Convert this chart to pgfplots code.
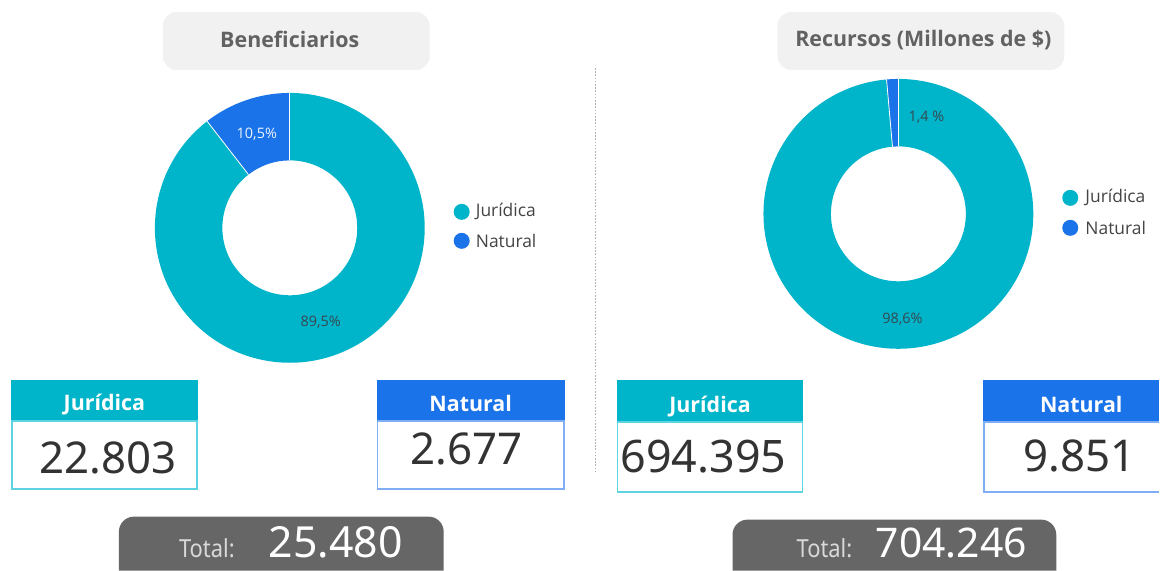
\documentclass[border=0pt]{standalone}
\usepackage{pgfplots}
\usepackage{pgfplotstable}
\pgfplotsset{compat=1.18}
\usepackage{fontspec}
\setmainfont{Open Sans}
\newfontfamily\numfont{Noto Sans}
\newfontfamily\condfont[FakeStretch=0.88]{Noto Sans}

\definecolor{jur}{HTML}{00B5CA}
\definecolor{nat}{HTML}{1A73E8}
\definecolor{jurline}{HTML}{5ED3E2}
\definecolor{natline}{HTML}{7FAEF5}
\definecolor{titlebg}{HTML}{F1F1F1}
\definecolor{titletxt}{HTML}{626262}
\definecolor{totbg}{HTML}{666666}
\definecolor{numtxt}{HTML}{333333}
\definecolor{legtxt}{HTML}{444444}
\definecolor{pcttxt}{HTML}{37474F}

% shares in percent
\pgfplotstableread{
tipo share
Juridica 89.5
Natural 10.5
}\benef
\pgfplotstableread{
tipo share
Juridica 98.6
Natural 1.4
}\recur

\pgfplotstablegetelem{1}{share}\of\benef
\pgfmathsetmacro\bA{90+3.6*\pgfplotsretval}
\pgfplotstablegetelem{1}{share}\of\recur
\pgfmathsetmacro\rA{90+3.6*\pgfplotsretval}

% slice: color, start angle, end angle
\newcommand\slice[3]{%
  \fill[#1] (axis cs:{cos(#2)},{sin(#2)}) arc[start angle=#2, end angle=#3, radius=135bp]
    -- (axis cs:{0.5*cos(#3)},{0.5*sin(#3)}) arc[start angle=#3, end angle=#2, radius=67.5bp] -- cycle;}
\newcommand\sep[1]{%
  \draw[white, line width=0.8bp] (axis cs:{0.5*cos(#1)},{0.5*sin(#1)}) -- (axis cs:{cos(#1)},{sin(#1)});}

\begin{document}
\begin{tikzpicture}
\begin{scope}[x=1bp,y=-1bp]
\fill[white] (0,0) rectangle (1160,571);
\end{scope}

\begin{axis}[hide axis, scale only axis, width=270bp, height=270bp,
  xmin=-1, xmax=1, ymin=-1, ymax=1, at={(290bp,-228bp)}, anchor=center]
  \slice{nat}{90}{\bA}
  \slice{jur}{\bA}{450}
  \sep{90}\sep{\bA}
\end{axis}

\begin{axis}[hide axis, scale only axis, width=270bp, height=270bp,
  xmin=-1, xmax=1, ymin=-1, ymax=1, at={(899bp,-214bp)}, anchor=center]
  \slice{nat}{90}{\rA}
  \slice{jur}{\rA}{450}
  \sep{90}\sep{\rA}
\end{axis}

\begin{scope}[x=1bp,y=-1bp]
% title boxes
\fill[titlebg, rounded corners=14bp] (163,12) rectangle (430,70);
\node[anchor=base, inner sep=0, text=titletxt, font=\bfseries\fontsize{21.5}{25}\selectfont] at (290,48) {Beneficiarios};
\fill[titlebg, rounded corners=14bp] (778,12) rectangle (1065,70);
\node[anchor=base, inner sep=0, text=titletxt, font=\bfseries\fontsize{21.5}{25}\selectfont] at (924,47) {Recursos (Millones de \$)};

% percent labels
\node[text=white!92!nat, font=\fontsize{14.5}{17}\selectfont] at (257,134) {10,5\%};
\node[text=pcttxt, font=\fontsize{14.5}{17}\selectfont] at (321,322) {89,5\%};
\node[text=pcttxt, font=\fontsize{14.5}{17}\selectfont] at (927,117) {1,4 \%};
\node[text=pcttxt, font=\fontsize{14.5}{17}\selectfont] at (903,319) {98,6\%};

% legends
\fill[jur] (462,212) circle[radius=8];
\fill[nat] (462,241) circle[radius=8];
\node[anchor=west, inner sep=0, text=legtxt, font=\fontsize{17.5}{20}\selectfont] at (476,212) {Jurídica};
\node[anchor=west, inner sep=0, text=legtxt, font=\fontsize{17.5}{20}\selectfont] at (476,241) {Natural};
\fill[jur] (1071,198) circle[radius=8];
\fill[nat] (1071,228) circle[radius=8];
\node[anchor=west, inner sep=0, text=legtxt, font=\fontsize{17.5}{20}\selectfont] at (1086,198) {Jurídica};
\node[anchor=west, inner sep=0, text=legtxt, font=\fontsize{17.5}{20}\selectfont] at (1086,228) {Natural};

% divider
\draw[black!30, line width=1.6bp, dash pattern=on 1.6bp off 1.6bp] (596,68) -- (596,473);

% value boxes
\fill[jur] (11,380) rectangle (198,421);
\draw[jurline, line width=1.6bp] (11.8,421) rectangle (197.2,489.2);
\node[anchor=base, inner sep=0, text=white, font=\bfseries\fontsize{21.5}{25}\selectfont] at (104.5,411) {Jurídica};
\node[anchor=base, inner sep=0, text=numtxt, font=\numfont\fontsize{44}{50}\selectfont] at (108,474) {22.803};

\fill[nat] (377,380) rectangle (565,421);
\draw[natline, line width=1.6bp] (377.8,421) rectangle (564.2,489.2);
\node[anchor=base, inner sep=0, text=white, font=\bfseries\fontsize{21.5}{25}\selectfont] at (471,412) {Natural};
\node[anchor=base, inner sep=0, text=numtxt, font=\numfont\fontsize{44}{50}\selectfont] at (467,465) {2.677};

\fill[jur] (617,380) rectangle (804,422);
\draw[jurline, line width=1.6bp] (617.8,422) rectangle (803.2,492.2);
\node[anchor=base, inner sep=0, text=white, font=\bfseries\fontsize{21.5}{25}\selectfont] at (710.5,413) {Jurídica};
\node[anchor=base, inner sep=0, text=numtxt, font=\numfont\fontsize{45}{50}\selectfont] at (704,473) {694.395};

\fill[nat] (984,380) rectangle (1160,422);
\draw[natline, line width=1.6bp] (1160,422) -- (984.8,422) -- (984.8,492.2) -- (1160,492.2);
\node[anchor=base, inner sep=0, text=white, font=\bfseries\fontsize{21.5}{25}\selectfont] at (1082,413) {Natural};
\node[anchor=base, inner sep=0, text=numtxt, font=\numfont\fontsize{44}{50}\selectfont] at (1080,472) {9.851};

% totals (cut by the lower edge)
\fill[totbg] (119,571) [rounded corners=15bp] -- (119,517) -- (444,517) [sharp corners] -- (444,571) -- cycle;
\node[anchor=base, inner sep=0, text=black!15, font=\condfont\fontsize{25}{29}\selectfont] at (207,558) {Total:};
\node[anchor=base, inner sep=0, text=white, font=\numfont\fontsize{43}{50}\selectfont] at (336,558) {25.480};

\fill[totbg] (733,571) [rounded corners=15bp] -- (733,520) -- (1057,520) [sharp corners] -- (1057,571) -- cycle;
\node[anchor=base, inner sep=0, text=black!15, font=\condfont\fontsize{25}{29}\selectfont] at (825,558) {Total:};
\node[anchor=base, inner sep=0, text=white, font=\numfont\fontsize{41}{48}\selectfont] at (952,558) {704.246};
\end{scope}
\end{tikzpicture}
\end{document}
